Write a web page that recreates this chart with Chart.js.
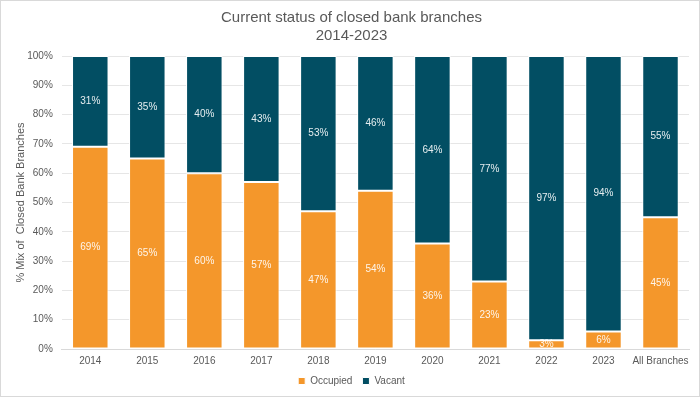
<!DOCTYPE html>
<html>
<head>
<meta charset="utf-8">
<script src="https://cdn.jsdelivr.net/npm/chart.js@4"></script>
<style>
    html, body { margin: 0; padding: 0; background: #fff; }
    #wrap { position: relative; width: 698px; height: 395px; border: 1px solid #d9d9d9; }
</style>
</head>
<body>
<div id="wrap"><canvas id="chart"></canvas></div>
<script>
const categories = ['2014', '2015', '2016', '2017', '2018', '2019', '2020', '2021', '2022', '2023', 'All Branches'];
const occupied = [69, 65, 60, 57, 47, 54, 36, 23, 3, 6, 45];
const vacant = [31, 35, 40, 43, 53, 46, 64, 77, 97, 94, 55];
const yTicks = [0, 10, 20, 30, 40, 50, 60, 70, 80, 90, 100];

const FONT = "'Liberation Sans', Arial, sans-serif";
const GREY = '#595959';
const LEGEND_PAD = 10;   // gap between legend items
const LEGEND_TRIM = 7;   // space taken back above the legend

// draws the percentage in the middle of each bar segment
const barLabels = {
    id: 'barLabels',
    afterDatasetsDraw(chart) {
        const ctx = chart.ctx;
        ctx.save();
        ctx.fillStyle = 'rgba(255,255,255,0.9)';
        ctx.font = '10px ' + FONT;
        ctx.textAlign = 'center';
        ctx.textBaseline = 'middle';
        chart.data.datasets.forEach((ds, i) => {
            chart.getDatasetMeta(i).data.forEach((bar, j) => {
                const mid = (bar.y + bar.base) / 2;
                ctx.fillText(ds.data[j] + '%', bar.x, mid);
            });
        });
        ctx.restore();
    }
};

// keep wide spacing between legend items without the tall gap above them
const legendSpacing = {
    id: 'legendSpacing',
    beforeUpdate(chart) {
        const lg = chart.legend;
        if (lg && !lg._trimmed) {
            const fit = lg.fit;
            lg.fit = function () {
                fit.call(this);
                this.height -= LEGEND_TRIM;
            };
            lg._trimmed = true;
        }
    },
    afterLayout(chart) {
        const lg = chart.legend;
        if (lg) {
            lg.top -= LEGEND_TRIM;
            lg.bottom -= LEGEND_TRIM;
        }
    }
};

new Chart(document.getElementById('chart'), {
    type: 'bar',
    data: {
        labels: categories,
        datasets: [
            {
                label: 'Occupied',
                data: occupied,
                backgroundColor: '#f4972b',
                borderColor: '#ffffff',
                borderWidth: 1,
                borderSkipped: false,
                categoryPercentage: 1,
                barPercentage: 0.64
            },
            {
                label: 'Vacant',
                data: vacant,
                backgroundColor: '#024e63',
                borderColor: '#ffffff',
                borderWidth: 1,
                borderSkipped: false,
                categoryPercentage: 1,
                barPercentage: 0.64
            }
        ]
    },
    options: {
        responsive: true,
        maintainAspectRatio: false,
        animation: false,
        layout: { padding: { left: 13, right: 10, top: 0, bottom: 0 } },
        plugins: {
            title: {
                display: true,
                text: ['Current status of closed bank branches', '2014-2023'],
                color: GREY,
                font: { family: FONT, size: 15, weight: 'normal', lineHeight: 1.2 },
                padding: { top: 8, bottom: 11 }
            },
            legend: {
                position: 'bottom',
                labels: {
                    color: GREY,
                    font: { family: FONT, size: 10 },
                    boxWidth: 7,
                    boxHeight: 7,
                    padding: LEGEND_PAD
                }
            },
            tooltip: { enabled: false }
        },
        scales: {
            x: {
                stacked: true,
                grid: { display: false, drawTicks: false },
                border: { color: '#d9d9d9' },
                ticks: {
                    color: GREY,
                    font: { family: FONT, size: 10 },
                    padding: 6,
                    maxRotation: 0,
                    minRotation: 0,
                    autoSkip: false
                }
            },
            y: {
                stacked: true,
                min: 0,
                max: 100,
                afterBuildTicks: axis => { axis.ticks = yTicks.map(v => ({ value: v })); },
                grid: { color: '#e6e6e6', drawTicks: false },
                border: { display: false },
                ticks: {
                    color: GREY,
                    font: { family: FONT, size: 10 },
                    padding: 9,
                    callback: v => v + '%'
                },
                title: {
                    display: true,
                    text: '% Mix of  Closed Bank Branches',
                    color: GREY,
                    font: { family: FONT, size: 11 },
                    padding: { top: 0, bottom: -9 }
                }
            }
        }
    },
    plugins: [barLabels, legendSpacing]
});
</script>
</body>
</html>
